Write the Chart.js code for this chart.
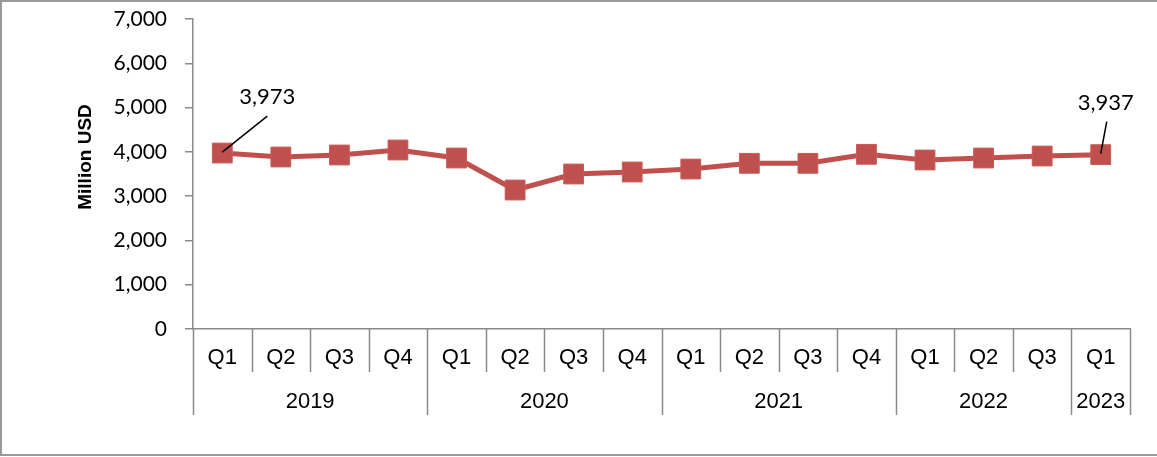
<!DOCTYPE html>
<html>
<head>
<meta charset="utf-8">
<script src="https://cdn.jsdelivr.net/npm/chart.js@4.4.0/dist/chart.umd.min.js"></script>
<style>
  html, body { margin: 0; padding: 0; background: #ffffff; }
  #wrap { width: 1157px; height: 457px; position: relative; }
</style>
</head>
<body>
<div id="wrap"><canvas id="c" width="1157" height="457"></canvas></div>
<script>
// ---- Data ----
const quarters = ['Q1','Q2','Q3','Q4','Q1','Q2','Q3','Q4','Q1','Q2','Q3','Q4','Q1','Q2','Q3','Q1'];
const years    = ['2019','2019','2019','2019','2020','2020','2020','2020','2021','2021','2021','2021','2022','2022','2022','2023'];
const values   = [3973, 3884, 3929, 4042, 3861, 3138, 3500, 3545, 3612, 3741, 3741, 3944, 3816, 3861, 3906, 3937];
const labelledPoints = [0, 15];
const yTitle = 'Million USD';
const yMin = 0, yMax = 7000, yStep = 1000;

const AXIS_COLOR = '#8a8a8a';
const LINE_COLOR = '#C0504D';

const fmt = v => Number(v).toLocaleString('en-US');

const decorPlugin = {
  id: 'decor',
  beforeDraw(chart) {
    const ctx = chart.ctx;
    ctx.save();
    ctx.strokeStyle = '#9a9a9a';
    ctx.lineWidth = 2;
    ctx.beginPath();
    ctx.moveTo(1, 1); ctx.lineTo(1157, 1);
    ctx.moveTo(1, 0); ctx.lineTo(1, 456);
    ctx.moveTo(0, 455); ctx.lineTo(1157, 455);
    ctx.stroke();
    ctx.restore();
  },
  afterDraw(chart) {
    const ctx = chart.ctx;
    const xs = chart.scales.x;
    const n = quarters.length;
    const step = xs.getPixelForValue(1) - xs.getPixelForValue(0);
    const top = xs.top;
    const qBottom = top + 43;
    const yBottom = top + 86;
    ctx.save();
    ctx.strokeStyle = AXIS_COLOR;
    ctx.lineWidth = 1.5;
    ctx.beginPath();
    for (let i = 0; i <= n; i++) {
      const x = Math.round(xs.getPixelForValue(0) - step / 2 + i * step) + 0.5;
      const groupEdge = (i === 0 || i === n || years[i] !== years[i - 1]);
      ctx.moveTo(x, top);
      ctx.lineTo(x, groupEdge ? yBottom : qBottom);
    }
    ctx.stroke();

    // year labels
    ctx.fillStyle = '#000';
    ctx.font = '22px "Liberation Sans", Arial, sans-serif';
    ctx.textAlign = 'center';
    ctx.textBaseline = 'middle';
    let start = 0;
    for (let i = 1; i <= n; i++) {
      if (i === n || years[i] !== years[start]) {
        const cx = (xs.getPixelForValue(start) + xs.getPixelForValue(i - 1)) / 2;
        ctx.fillText(years[start], cx, top + 73);
        start = i;
      }
    }

    // y axis title
    ctx.save();
    ctx.translate(86, 157);
    ctx.rotate(-Math.PI / 2);
    ctx.font = 'bold 19px "Liberation Sans", Arial, sans-serif';
    ctx.textAlign = 'center';
    ctx.textBaseline = 'middle';
    ctx.fillText(yTitle, 0, 0);
    ctx.restore();
    ctx.restore();
  },
  afterDatasetsDraw(chart) {
    const ctx = chart.ctx;
    const xs = chart.scales.x;
    const ys = chart.scales.y;
    ctx.save();
    ctx.strokeStyle = '#000';
    ctx.lineWidth = 1.5;
    ctx.fillStyle = '#000';
    ctx.font = '22px Lato, "Open Sans", sans-serif';
    ctx.textAlign = 'center';
    ctx.textBaseline = 'middle';
    labelledPoints.forEach(i => {
      const px = xs.getPixelForValue(i);
      const py = ys.getPixelForValue(values[i]);
      let lx1, ly1, tx, ty;
      if (i === 0) { lx1 = px + 45; ly1 = py - 37; tx = px + 45; ty = py - 56; }
      else { lx1 = px + 6; ly1 = py - 33; tx = px + 5; ty = py - 52; }
      ctx.beginPath();
      ctx.moveTo(px, py - 1);
      ctx.lineTo(lx1, ly1);
      ctx.stroke();
      ctx.fillText(fmt(values[i]), tx, ty);
    });
    ctx.restore();
  }
};

new Chart(document.getElementById('c'), {
  type: 'line',
  data: {
    labels: quarters,
    datasets: [{
      data: values,
      borderColor: LINE_COLOR,
      borderWidth: 5,
      backgroundColor: LINE_COLOR,
      pointStyle: 'rect',
      pointRadius: 14,
      pointHoverRadius: 14,
      pointBackgroundColor: LINE_COLOR,
      pointBorderColor: '#c85a57',
      pointBorderWidth: 1,
      tension: 0,
      clip: false
    }]
  },
  options: {
    responsive: false,
    devicePixelRatio: 1,
    animation: false,
    events: [],
    layout: { padding: { top: 19, right: 27, left: 0, bottom: 0 } },
    plugins: { legend: { display: false }, tooltip: { enabled: false }, title: { display: false } },
    scales: {
      x: {
        type: 'category',
        offset: true,
        grid: { display: false, drawTicks: false },
        border: { display: true, color: AXIS_COLOR, width: 1.5 },
        ticks: {
          color: '#000',
          font: { family: '"Liberation Sans", Arial, sans-serif', size: 22 },
          padding: 16,
          maxRotation: 0,
          autoSkip: false
        },
        afterFit(s) { s.height = 128; s.paddingLeft = 0; s.paddingRight = 0; }
      },
      y: {
        min: yMin, max: yMax,
        grid: { display: true, drawOnChartArea: false, drawTicks: true, tickLength: 8, color: AXIS_COLOR, lineWidth: 1.5 },
        border: { display: true, color: AXIS_COLOR, width: 1.5 },
        ticks: {
          stepSize: yStep,
          color: '#000',
          padding: 18,
          font: { family: 'Lato, "Open Sans", sans-serif', size: 21 },
          callback: v => fmt(v)
        },
        afterFit(s) { s.width = 193; s.paddingTop = 0; s.paddingBottom = 0; }
      }
    }
  },
  plugins: [decorPlugin]
});
</script>
</body>
</html>
